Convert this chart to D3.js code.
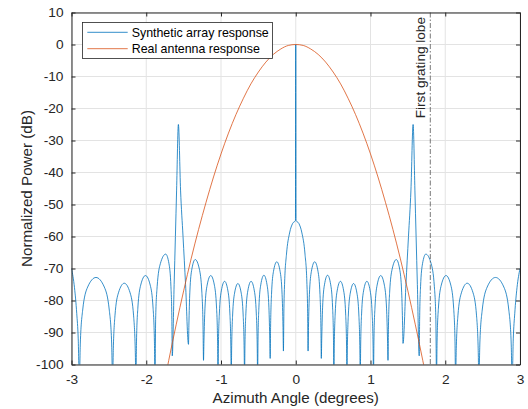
<!DOCTYPE html>
<html>
<head>
<meta charset="utf-8">
<script src="https://cdn.jsdelivr.net/npm/d3@7"></script>
<style>
  html, body { margin: 0; padding: 0; background: #fff; }
  svg { display: block; font-family: "Liberation Sans", Arial, Helvetica, sans-serif; }
</style>
</head>
<body>
<svg id="chart" width="528" height="409"></svg>
<script>
// ---- data ----
const xTicks = [-3, -2, -1, 0, 1, 2, 3];
const yTicks = [10, 0, -10, -20, -30, -40, -50, -60, -70, -80, -90, -100];
const xLabel = "Azimuth Angle (degrees)";
const yLabel = "Normalized Power (dB)";
const seriesNames = ["Synthetic array response", "Real antenna response"];
const gratingLobeAngle = 1.8;
const gratingLobeLabel = "First grating lobe";

// Synthetic array response: [angle (deg), power (dB)]
const synthResponse = [
  [-3, -70], [-2.96, -76], [-2.93, -84], [-2.91, -92], [-2.895, -105],
  [-2.882, -93.3], [-2.8505, -83], [-2.784, -75.8], [-2.6725, -72.8], [-2.561, -75.8], [-2.4945, -83], [-2.463, -93.3], [-2.45, -105],
  [-2.4406, -95.1], [-2.4188, -84.8], [-2.372, -77.6], [-2.294, -74.6], [-2.216, -77.6], [-2.1692, -84.8], [-2.1474, -95.1], [-2.138, -105],
  [-2.1304, -92.7], [-2.1125, -82.4], [-2.0743, -75.2], [-2.0105, -72.2], [-1.9468, -75.2], [-1.9085, -82.4], [-1.8907, -92.7], [-1.883, -105],
  [-1.8744, -86], [-1.8544, -75.7], [-1.8115, -68.5], [-1.74, -65.5], [-1.696, -68.5], [-1.6696, -75.7], [-1.6573, -86], [-1.652, -97.3],
  [-1.627, -75], [-1.61, -60], [-1.594, -45.5], [-1.57, -25], [-1.541, -45.5], [-1.508, -60], [-1.474, -75], [-1.435, -93.7],
  [-1.4296, -87.7], [-1.417, -77.4], [-1.39, -70.2], [-1.345, -67.2], [-1.2895, -70.2], [-1.2562, -77.4], [-1.2407, -87.7], [-1.234, -98.7],
  [-1.2282, -92.7], [-1.2146, -82.4], [-1.1855, -75.2], [-1.137, -72.2], [-1.0885, -75.2], [-1.0594, -82.4], [-1.0458, -92.7], [-1.04, -105],
  [-1.0347, -94.5], [-1.0223, -84.2], [-0.9958, -77], [-0.9515, -74], [-0.9073, -77], [-0.8807, -84.2], [-0.8683, -94.5], [-0.863, -105],
  [-0.8577, -95.2], [-0.8452, -84.9], [-0.8185, -77.7], [-0.774, -74.7], [-0.7295, -77.7], [-0.7028, -84.9], [-0.6903, -95.2], [-0.685, -105],
  [-0.6798, -94.5], [-0.6675, -84.2], [-0.6413, -77], [-0.5975, -74], [-0.5538, -77], [-0.5275, -84.2], [-0.5153, -94.5], [-0.51, -105],
  [-0.505, -92.6], [-0.4932, -82.3], [-0.468, -75.1], [-0.426, -72.1], [-0.384, -75.1], [-0.3588, -82.3], [-0.347, -92.6], [-0.342, -98.1],
  [-0.3367, -88.4], [-0.3243, -78.1], [-0.2978, -70.9], [-0.2535, -67.9], [-0.2093, -70.9], [-0.1827, -78.1], [-0.1703, -88.4], [-0.165, -95.8],
  [-0.1584, -82.6], [-0.1485, -74.2], [-0.1238, -65.5], [-0.0825, -58.9], [-0.0413, -55.9], [-0.004, -55],
  [0, 0],
  [0.004, -55], [0.0413, -55.9], [0.0825, -58.9], [0.1238, -65.5], [0.1485, -74.2], [0.1584, -82.6], [0.165, -95.8],
  [0.1703, -88.4], [0.1827, -78.1], [0.2093, -70.9], [0.2535, -67.9], [0.2978, -70.9], [0.3243, -78.1], [0.3367, -88.4], [0.342, -98.1],
  [0.347, -92.6], [0.3588, -82.3], [0.384, -75.1], [0.426, -72.1], [0.468, -75.1], [0.4932, -82.3], [0.505, -92.6], [0.51, -105],
  [0.5153, -94.5], [0.5275, -84.2], [0.5538, -77], [0.5975, -74], [0.6413, -77], [0.6675, -84.2], [0.6798, -94.5], [0.685, -105],
  [0.6903, -95.2], [0.7028, -84.9], [0.7295, -77.7], [0.774, -74.7], [0.8185, -77.7], [0.8452, -84.9], [0.8577, -95.2], [0.863, -105],
  [0.8683, -94.5], [0.8807, -84.2], [0.9073, -77], [0.9515, -74], [0.9958, -77], [1.0223, -84.2], [1.0347, -94.5], [1.04, -105],
  [1.0458, -92.7], [1.0594, -82.4], [1.0885, -75.2], [1.137, -72.2], [1.1855, -75.2], [1.2146, -82.4], [1.2282, -92.7], [1.234, -98.7],
  [1.2407, -87.7], [1.2562, -77.4], [1.2895, -70.2], [1.345, -67.2], [1.39, -70.2], [1.417, -77.4], [1.4296, -87.7], [1.435, -93.4],
  [1.474, -75], [1.508, -60], [1.541, -45.5], [1.57, -25], [1.594, -45.5], [1.61, -60], [1.627, -75], [1.652, -97.3],
  [1.6573, -86], [1.6696, -75.7], [1.696, -68.5], [1.74, -65.5], [1.8115, -68.5], [1.8544, -75.7], [1.8744, -86], [1.883, -105],
  [1.8907, -92.7], [1.9085, -82.4], [1.9468, -75.2], [2.0105, -72.2], [2.0743, -75.2], [2.1125, -82.4], [2.1304, -92.7], [2.138, -105],
  [2.1474, -95.1], [2.1692, -84.8], [2.216, -77.6], [2.294, -74.6], [2.372, -77.6], [2.4188, -84.8], [2.4406, -95.1], [2.45, -105],
  [2.463, -93.3], [2.4945, -83], [2.561, -75.8], [2.6725, -72.8], [2.784, -75.8], [2.8505, -83], [2.882, -93.3], [2.895, -105],
  [2.91, -92], [2.93, -84], [2.96, -76], [3, -70]
];

// Real antenna response
const realAngle = [-1.8, -1.7, -1.6, -1.5, -1.4, -1.3, -1.2, -1.1, -1.0, -0.9, -0.8, -0.7, -0.6, -0.5, -0.4, -0.3, -0.2, -0.1, 0,
                   0.1, 0.2, 0.3, 0.4, 0.5, 0.6, 0.7, 0.8, 0.9, 1.0, 1.1, 1.2, 1.3, 1.4, 1.5, 1.6, 1.7, 1.8];
const realPower = [-110.8, -98.8, -87.6, -77.0, -67.0, -57.8, -49.3, -41.4, -34.2, -27.7, -21.9, -16.8, -12.3, -8.6, -5.5, -3.1, -1.4, -0.3, 0,
                   -0.3, -1.4, -3.1, -5.5, -8.6, -12.3, -16.8, -21.9, -27.7, -34.2, -41.4, -49.3, -57.8, -67.0, -77.0, -87.6, -98.8, -110.8];

// ---- layout ----
const W = 528, H = 409;
const plot = { left: 71.5, right: 520, top: 12.5, bottom: 364.5 };
const axisColor = "#262626";
const gridColor = "#e3e3e3";
const blue = "#0072BD";
const orange = "#D95319";

const svg = d3.select("#chart");
const x = d3.scaleLinear().domain([-3, 3]).range([plot.left, plot.right]);
const y = d3.scaleLinear().domain([-100, 10]).range([plot.bottom, plot.top]);
const plainFmt = d => String(d);

svg.append("rect").attr("x", 0).attr("y", 0).attr("width", W).attr("height", H).attr("fill", "#fff");

svg.append("defs").append("clipPath").attr("id", "clip")
  .append("rect").attr("x", plot.left).attr("y", plot.top)
  .attr("width", plot.right - plot.left).attr("height", plot.bottom - plot.top);

// grid
const grid = svg.append("g");
grid.selectAll(".gx").data(xTicks).join("line")
  .attr("x1", d => x(d)).attr("x2", d => x(d))
  .attr("y1", plot.top).attr("y2", plot.bottom)
  .attr("stroke", gridColor).attr("stroke-width", 1);
grid.selectAll(".gy").data(yTicks).join("line")
  .attr("y1", d => y(d)).attr("y2", d => y(d))
  .attr("x1", plot.left).attr("x2", plot.right)
  .attr("stroke", gridColor).attr("stroke-width", 1);

// data lines
const lines = svg.append("g").attr("clip-path", "url(#clip)");
const lineGen = d3.line().x(d => x(d[0])).y(d => y(d[1])).curve(d3.curveMonotoneX);
lines.append("path").datum(synthResponse).attr("d", lineGen)
  .attr("fill", "none").attr("stroke", blue).attr("stroke-width", 0.8);

const realData = realAngle.map((a, i) => [a, realPower[i]]);
lines.append("path").datum(realData).attr("d", lineGen)
  .attr("fill", "none").attr("stroke", orange).attr("stroke-width", 0.8);

// grating lobe marker
svg.append("line")
  .attr("x1", x(gratingLobeAngle)).attr("x2", x(gratingLobeAngle))
  .attr("y1", plot.top).attr("y2", plot.bottom)
  .attr("stroke", "#555").attr("stroke-width", 0.8)
  .attr("stroke-dasharray", "5,2,1.5,2");
svg.append("text")
  .attr("transform", `translate(${x(gratingLobeAngle) - 5.5},${plot.top + 4.5}) rotate(-90)`)
  .attr("text-anchor", "end")
  .attr("font-size", 13.6).attr("fill", axisColor)
  .text(gratingLobeLabel);

// axes (box with inward ticks)
const xAxisB = d3.axisBottom(x).tickValues(xTicks).tickFormat(plainFmt).tickSizeInner(-4).tickSizeOuter(0).tickPadding(10);
const xAxisT = d3.axisTop(x).tickValues(xTicks).tickSizeInner(-4).tickSizeOuter(0).tickFormat("");
const yAxisL = d3.axisLeft(y).tickValues(yTicks).tickFormat(plainFmt).tickSizeInner(-4).tickSizeOuter(0).tickPadding(8);
const yAxisR = d3.axisRight(y).tickValues(yTicks).tickSizeInner(-4).tickSizeOuter(0).tickFormat("");

function styleAxis(g) {
  g.select(".domain").attr("stroke", axisColor).attr("stroke-width", 1);
  g.selectAll(".tick line").attr("stroke", axisColor).attr("stroke-width", 1);
  g.selectAll(".tick text").attr("fill", axisColor).attr("font-size", 13.7)
    .attr("font-family", "Liberation Sans, Arial, sans-serif");
}
svg.append("g").attr("transform", `translate(0,${plot.bottom})`).call(xAxisB).call(styleAxis);
svg.append("g").attr("transform", `translate(0,${plot.top})`).call(xAxisT).call(styleAxis);
svg.append("g").attr("transform", `translate(${plot.left},0)`).call(yAxisL).call(styleAxis);
svg.append("g").attr("transform", `translate(${plot.right},0)`).call(yAxisR).call(styleAxis);

// axis labels
svg.append("text").attr("x", (plot.left + plot.right) / 2).attr("y", 403)
  .attr("text-anchor", "middle").attr("font-size", 15.2).attr("fill", axisColor)
  .text(xLabel);
svg.append("text")
  .attr("transform", `translate(32,${(plot.top + plot.bottom) / 2}) rotate(-90)`)
  .attr("text-anchor", "middle").attr("font-size", 15.2).attr("fill", axisColor)
  .text(yLabel);

// legend
const legend = svg.append("g");
legend.append("rect").attr("x", 82.5).attr("y", 22.5).attr("width", 190).attr("height", 36)
  .attr("fill", "#fff").attr("stroke", axisColor).attr("stroke-width", 0.8);
const legendColors = [blue, orange];
seriesNames.forEach((name, i) => {
  const ly = 32.3 + i * 16.4;
  legend.append("line").attr("x1", 87.3).attr("x2", 127.7).attr("y1", ly).attr("y2", ly)
    .attr("stroke", legendColors[i]).attr("stroke-width", 0.8);
  legend.append("text").attr("x", 131.7).attr("y", ly + 4.4)
    .attr("font-size", 12.4).attr("fill", "#000").text(name);
});
</script>
</body>
</html>
